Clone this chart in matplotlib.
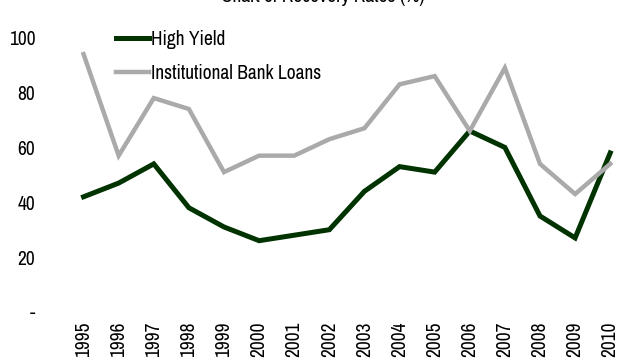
import matplotlib
matplotlib.use("Agg")
import matplotlib.pyplot as plt
import numpy as np

years = [str(y) for y in range(1995, 2011)]
high_yield = [42, 47, 54, 38, 31, 26, 28, 30, 44, 53, 51, 66, 60, 35, 27, 58]
bank_loans = [94, 57, 78, 74, 51, 57, 57, 63, 67, 83, 86, 66, 89, 54, 43, 54]
yticks = [0, 20, 40, 60, 80, 100]
ytick_labels = ["-", "20", "40", "60", "80", "100"]

plt.rcParams['font.family'] = ['Archivo Narrow', 'DejaVu Sans']

fig = plt.figure(figsize=(6.19, 3.62), dpi=100)
ax = fig.add_axes([66 / 619, 50 / 362, 553 / 619, 288 / 362])

x = np.arange(len(years))
ax.plot(x, high_yield, color='#003300', lw=3.6, label='High Yield',
        solid_joinstyle='miter', clip_on=False, zorder=2)
ax.plot(x, bank_loans, color='#aaaaaa', lw=3.2, label='Institutional Bank Loans',
        solid_joinstyle='miter', clip_on=False, zorder=3)

ax.set_xlim(-0.5, 15.25)
ax.set_ylim(0, 105)
ax.set_xticks(x)
ax.set_xticklabels(years, rotation=90, fontsize=14)
ax.set_yticks(yticks)
ax.set_yticklabels(ytick_labels, fontsize=14)
ax.tick_params(length=0)
ax.tick_params(axis='y', pad=22)
ax.tick_params(axis='x', pad=7)
for s in ax.spines.values():
    s.set_visible(False)

leg = ax.legend(loc='upper left', bbox_to_anchor=(116 / 619, 1 - 30 / 362),
                bbox_transform=fig.transFigure, frameon=False, fontsize=14,
                handlelength=1.7, handletextpad=0.1, labelspacing=0.75,
                borderpad=0, borderaxespad=0)

fig.text(0.522, 1.01, "Chart of Recovery Rates (%)", ha='center', va='center',
         fontsize=14, fontweight='bold')

fig.savefig("out.png", dpi=100)
